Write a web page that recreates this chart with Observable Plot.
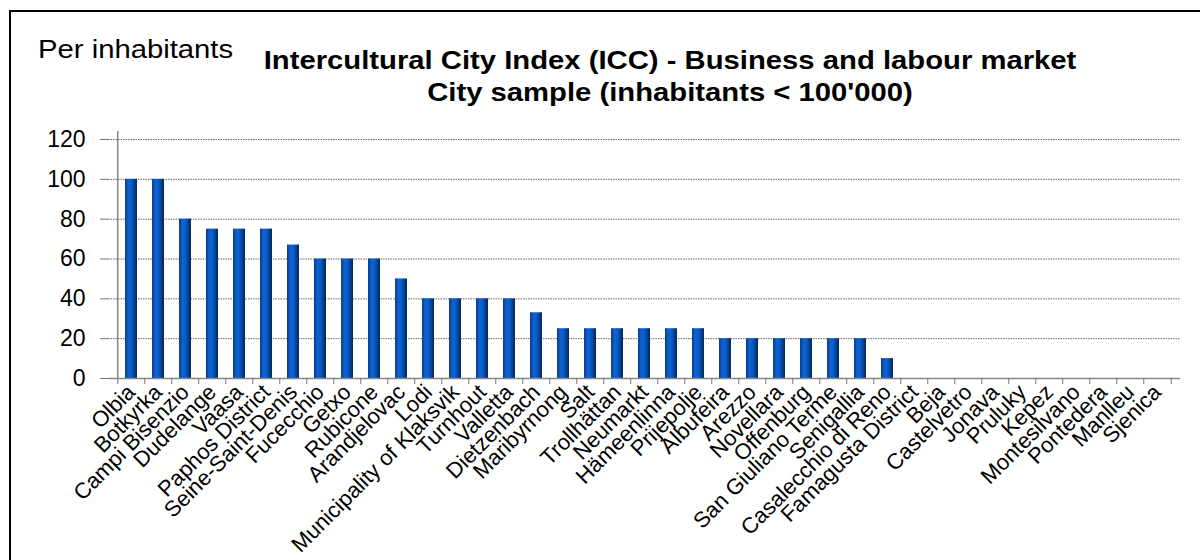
<!DOCTYPE html>
<html>
<head>
<meta charset="utf-8">
<script src="https://cdn.jsdelivr.net/npm/d3@7"></script>
<script src="https://cdn.jsdelivr.net/npm/@observablehq/plot@0.6"></script>
<style>
  html, body { margin: 0; padding: 0; background: #fff; width: 1200px; height: 560px; overflow: hidden; }
  body { position: relative; font-family: "Liberation Sans", Arial, sans-serif; }
  #frame { position: absolute; left: 9px; top: 10px; width: 1200px; height: 560px; z-index: 10;
           border-left: 2px solid #000; border-top: 2px solid #000; pointer-events: none; }
  #header { position: absolute; left: 0; top: 0; width: 1200px; height: 110px; }
  #unit { position: absolute; left: 38px; top: 35px; font-size: 25px; line-height: 28px; color: #000;
          white-space: nowrap; transform: scaleX(1.17); transform-origin: 0 0; }
  #title { position: absolute; left: 0; width: 1340px; top: 44px; text-align: center; white-space: nowrap;
           font-size: 25px; font-weight: bold; line-height: 32px; color: #000;
           transform: scaleX(1.17); transform-origin: 670px 0; }
  #chart { position: absolute; left: 0; top: 110px; }
</style>
</head>
<body>
<div id="header">
  <div id="unit">Per inhabitants</div>
  <div id="title">Intercultural City Index (ICC) - Business and labour market<br>City sample (inhabitants &lt; 100'000)</div>
</div>
<div id="chart"></div>
<div id="frame"></div>
<script>
const cities = ["Olbia","Botkyrka","Campi Bisenzio","Dudelange","Vaasa","Paphos District","Seine-Saint-Denis","Fucecchio","Getxo","Rubicone","Arandjelovac","Lodi","Municipality of Klaksvik","Turnhout","Valletta","Dietzenbach","Maribyrnong","Salt","Trollhättan","Neumarkt","Hämeenlinna","Prijepolje","Albufeira","Arezzo","Novellara","Offenburg","San Giuliano Terme","Senigallia","Casalecchio di Reno","Famagusta District","Beja","Castelvetro","Jonava","Pruluky","Kepez","Montesilvano","Pontedera","Manlleu","Sjenica"];
const scores = [100,100,80,75,75,75,67,60,60,60,50,40,40,40,40,33,25,25,25,25,25,25,20,20,20,20,20,20,10,0,0,0,0,0,0,0,0,0,0];
const yTicks = [0,20,40,60,80,100,120];

const data = cities.map((c, i) => ({city: c, value: scores[i]}));

const W = 1200, H = 450, ML = 108, MR = 20, MT = 29, MB = 182;
const step = (W - ML - MR) / cities.length;

const chart = Plot.plot({
  width: W, height: H,
  marginLeft: ML, marginRight: MR, marginTop: MT, marginBottom: MB,
  style: { fontFamily: "'Liberation Sans', Arial, sans-serif", color: "#000", background: "transparent", overflow: "visible" },
  x: { domain: cities, padding: 0.56, paddingOuter: 0.28, label: null },
  y: { domain: [0, 120], label: null },
  marks: [
    Plot.gridY(yTicks.filter(d => d > 0), { stroke: "#666", strokeOpacity: 1, strokeDasharray: "1.5,1", strokeWidth: 1 }),
    Plot.barY(data, { x: "city", y: "value", fill: "url(#barGrad)" }),
    Plot.ruleX([cities[0]], { y1: 120, y2: 0, dx: -step / 2, insetTop: -8, stroke: "#888", strokeWidth: 1.5 }),
    Plot.ruleY([0], { stroke: "#888", strokeWidth: 1.5 }),
    Plot.ruleX(cities, { y1: 0, y2: 0, dx: -step / 2, insetBottom: -6, stroke: "#777" }),
    Plot.ruleX([cities[cities.length - 1]], { y1: 0, y2: 0, dx: step / 2, insetBottom: -6, stroke: "#777" }),
    Plot.axisY({ ticks: yTicks, tickSize: 8, tickPadding: 15, fontSize: 23, stroke: "#777", tickFormat: d => d, label: null }),
    Plot.axisX({ tickSize: 0, tickRotate: -45, tickPadding: 10, fontSize: 22, label: null })
  ]
});

// Horizontal shading gradient for the bars (cylinder look)
const ns = "http://www.w3.org/2000/svg";
const defs = document.createElementNS(ns, "defs");
const grad = document.createElementNS(ns, "linearGradient");
grad.setAttribute("id", "barGrad");
grad.setAttribute("x1", "0"); grad.setAttribute("x2", "1");
grad.setAttribute("y1", "0"); grad.setAttribute("y2", "0");
[["0%", "#0a3c8c"], ["30%", "#0b63d2"], ["55%", "#0a5cc6"], ["100%", "#062558"]].forEach(([o, c]) => {
  const s = document.createElementNS(ns, "stop");
  s.setAttribute("offset", o); s.setAttribute("stop-color", c);
  grad.appendChild(s);
});
defs.appendChild(grad);
chart.insertBefore(defs, chart.firstChild);

document.getElementById("chart").appendChild(chart);
</script>
</body>
</html>
